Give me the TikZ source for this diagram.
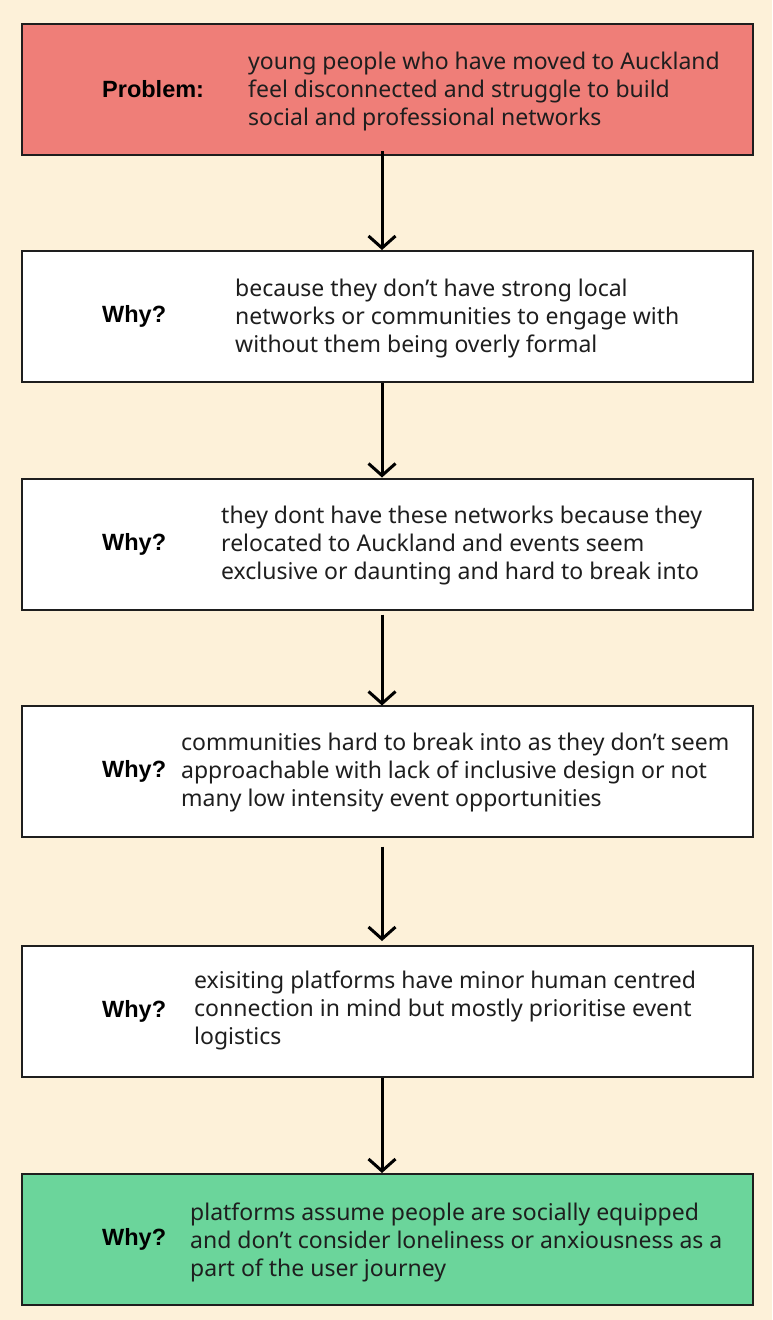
\documentclass[tikz,border=0pt]{standalone}
\usepackage{fontspec}
\setmainfont{Noto Sans}
\newfontfamily\whyfont{Liberation Sans}
\usetikzlibrary{arrows.meta,%
                positioning}

\definecolor{paper}{HTML}{FDF1D9}
\definecolor{probred}{HTML}{EF7E78}
\definecolor{solgreen}{HTML}{6BD59B}
\definecolor{ink}{HTML}{1E1E1E}

\tikzset{
  whybox/.style={draw=ink, line width=2pt, fill=white,
                 minimum width=731pt, minimum height=131pt, inner sep=0pt},
  whylabel/.style={anchor=west, inner sep=0pt, text=black,
                   font=\whyfont\bfseries\fontsize{23.5}{26}\selectfont},
  whytext/.style={anchor=west, align=left, inner sep=0pt, text=ink,
                  font=\fontsize{23}{28}\selectfont},
  whyarrow/.style={line width=3pt, draw=black,
                   -{Straight Barb[length=12pt,width=27pt]}},
}

\begin{document}
\begin{tikzpicture}[x=1pt,y=-1pt]
\fill[paper] (0,0) rectangle (772,1320);
%boxes
\node[whybox, fill=probred] (prob) at (387.5,89.5) {};
\node[whybox] (why1) at (387.5,316.5) {};
\node[whybox] (why2) at (387.5,544) {};
\node[whybox] (why3) at (387.5,771) {};
\node[whybox] (why4) at (387.5,1011.5) {};
\node[whybox, fill=solgreen] (why5) at (387.5,1239.5) {};
%labels
\node[whylabel] (probl) at ([xshift=81pt]prob.west) {Problem:};
\node[whylabel] (why1l) at ([xshift=81pt]why1.west) {Why?};
\node[whylabel] (why2l) at ([xshift=81pt]why2.west) {Why?};
\node[whylabel] (why3l) at ([xshift=81pt]why3.west) {Why?};
\node[whylabel] (why4l) at ([xshift=81pt]why4.west) {Why?};
\node[whylabel] (why5l) at ([xshift=81pt]why5.west) {Why?};
%texts
\node[whytext] (probt) at ([xshift=227pt,yshift=-2pt]prob.west) {young people who have moved to Auckland\\feel disconnected and struggle to build\\social and professional networks};
\node[whytext] (why1t) at ([xshift=214pt,yshift=-2pt]why1.west) {because they don’t have strong local\\networks or communities to engage with\\without them being overly formal};
\node[whytext] (why2t) at ([xshift=200pt,yshift=-2pt]why2.west) {they dont have these networks because they\\relocated to Auckland and events seem\\exclusive or daunting and hard to break into};
\node[whytext] (why3t) at ([xshift=160pt,yshift=-2pt]why3.west) {communities hard to break into as they don’t seem\\approachable with lack of inclusive design or not\\many low intensity event opportunities};
\node[whytext] (why4t) at ([xshift=173pt,yshift=1pt]why4.west) {exisiting platforms have minor human centred\\connection in mind but mostly prioritise event\\logistics};
\node[whytext] (why5t) at ([xshift=169pt,yshift=-3pt]why5.west) {platforms assume people are socially equipped\\and don’t consider loneliness or anxiousness as a\\part of the user journey};
%arrows
\draw[whyarrow] ([xshift=-5.5pt,yshift=5pt]prob.south) -- ([xshift=-5.5pt]why1.north);
\draw[whyarrow] ([xshift=-5.5pt]why1.south) -- ([xshift=-5.5pt]why2.north);
\draw[whyarrow] ([xshift=-5.5pt,yshift=-4pt]why2.south) -- ([xshift=-5.5pt,yshift=-1pt]why3.north);
\draw[whyarrow] ([xshift=-5.5pt,yshift=-9pt]why3.south) -- ([xshift=-5.5pt,yshift=4pt]why4.north);
\draw[whyarrow] ([xshift=-5.5pt]why4.south) -- ([xshift=-5.5pt]why5.north);
\end{tikzpicture}
\end{document}
